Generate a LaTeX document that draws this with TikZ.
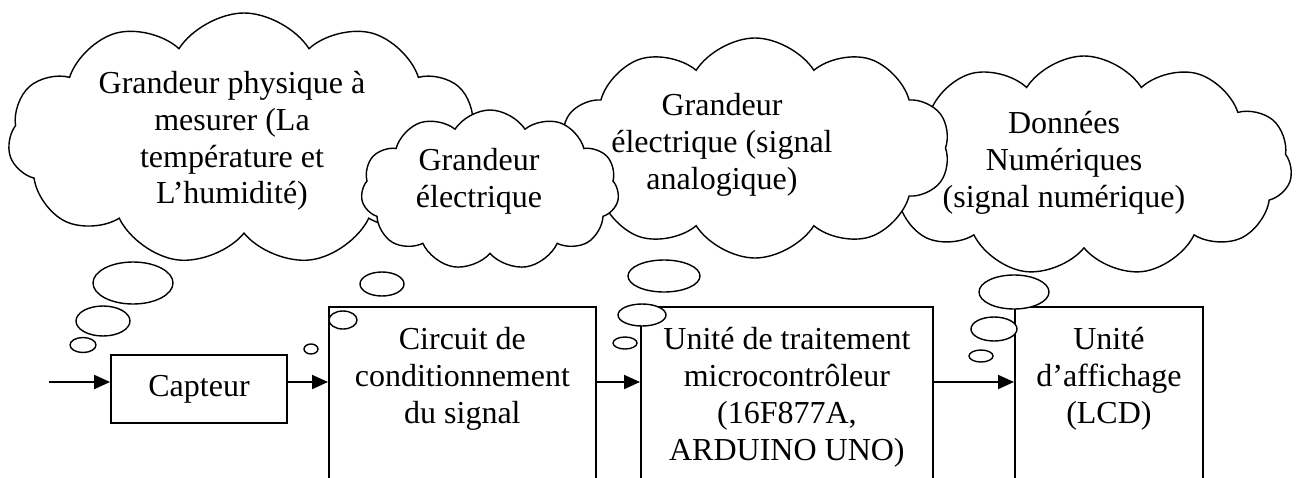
\documentclass[tikz,border=0pt]{standalone}
\usepackage{fontspec}
\setmainfont{Liberation Serif}
\usetikzlibrary{shapes.symbols}
\usetikzlibrary{positioning}
\usetikzlibrary{arrows.meta}

\tikzset{
  puff/.style={cloud, draw, fill=white, line width=.7pt, cloud puff arc=115, inner sep=0pt},
  blk/.style={draw, line width=.9pt, inner sep=0pt},
  txt/.style={align=center, inner sep=0pt, font=\fontsize{16}{18.4}\selectfont},
  arr/.style={-{Triangle[length=8pt,width=7pt]}, line width=1pt},
  bub/.style={draw, fill=white, line width=.7pt}
}

\begin{document}
\begin{tikzpicture}[x=.5pt, y=-.5pt]
  \useasboundingbox (0,0) rectangle (1296,477);

  % clouds, back to front
  \node[puff, cloud puffs=11, minimum width=236pt, minimum height=126pt] (c1) at (244,139) {};
  \node[puff, cloud puffs=11, minimum width=208pt, minimum height=110pt] (c4) at (1084,166) {};
  \node[puff, cloud puffs=10, minimum width=195pt, minimum height=110pt] (c3) at (755,148) {};
  \node[puff, cloud puffs=11, minimum width=129pt, minimum height=80pt] (c2) at (490,190) {};

  \node[txt] (t1) at (232,141) {Grandeur physique à\\mesurer (La\\température et\\L’humidité)};
  \node[txt] (t2) at (479,181) {Grandeur\\électrique};
  \node[txt] (t3) at (722,145) {Grandeur\\électrique (signal\\analogique)};
  \node[txt] (t4) at (1064,163) {Données\\Numériques\\(signal numérique)};

  % blocks
  \node[blk, txt, minimum width=88pt, minimum height=34pt] (cap) at (199,389) {Capteur};
  \node[blk, anchor=north west, minimum width=133.5pt, minimum height=110pt] (cond) at (328,306) {};
  \node[blk, anchor=north west, minimum width=146pt, minimum height=110pt] (uc) at (640,306) {};
  \node[blk, anchor=north west, minimum width=94pt, minimum height=110pt] (lcd) at (1014,306) {};

  \node[txt, below=10.5pt of cond.north] (condt) {Circuit de\\conditionnement\\du signal};
  \node[txt, below=10.5pt of uc.north] (uct) {Unité de traitement\\microcontrôleur\\(16F877A,\\ARDUINO UNO)};
  \node[txt, below=10.5pt of lcd.north] (lcdt) {Unité\\d’affichage\\(LCD)};

  % arrows
  \coordinate (in) at (49,382);
  \draw[arr] (in) -- (in -| cap.west);
  \draw[arr] (cap.east |- in) -- (cond.west |- in);
  \draw[arr] (cond.east |- in) -- (uc.west |- in);
  \draw[arr] (uc.east |- in) -- (lcd.west |- in);

  % thought bubbles
  \foreach \x/\y/\a/\b in {133/283/40/21, 103/321/27/15, 83/345/13/7.5,
                           382/284/22/12, 343/320/14/9, 311/349/7/5,
                           664/276/36/16, 642/315/24/11, 625/343/12/6,
                           1014/292/35/17, 994/329/23/12, 981/356/12/6}
    \filldraw[bub] (\x,\y) ellipse [x radius=\a, y radius=\b];
\end{tikzpicture}
\end{document}
